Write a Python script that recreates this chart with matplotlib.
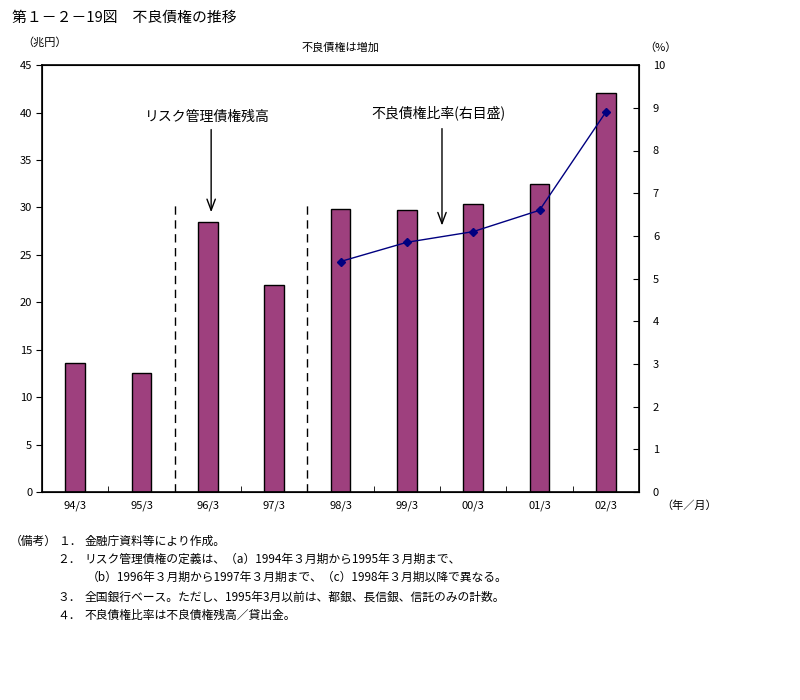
import matplotlib
matplotlib.use("Agg")
import matplotlib.pyplot as plt

plt.rcParams['font.family'] = ['Noto Sans CJK JP', 'DejaVu Sans']

# data
periods = ["94/3", "95/3", "96/3", "97/3", "98/3", "99/3", "00/3", "01/3", "02/3"]
npl_amount = [13.6, 12.5, 28.5, 21.8, 29.8, 29.7, 30.4, 32.5, 42.1]   # 兆円
ratio_periods = ["98/3", "99/3", "00/3", "01/3", "02/3"]
npl_ratio = [5.4, 5.85, 6.1, 6.6, 8.9]                               # %

note_nums = ["１．", "２．", "", "３．", "４．"]
notes = [
    "金融庁資料等により作成。",
    "リスク管理債権の定義は、（a）1994年３月期から1995年３月期まで、",
    "（b）1996年３月期から1997年３月期まで、（c）1998年３月期以降で異なる。",
    "全国銀行ベース。ただし、1995年3月以前は、都銀、長信銀、信託のみの計数。",
    "不良債権比率は不良債権残高／貸出金。",
]

bar_color = "#9E407E"
line_color = "#000080"

fig = plt.figure(figsize=(8, 7), dpi=100)
ax = fig.add_axes([0.0525, 0.297, 0.74625, 0.61])

x = list(range(len(periods)))
ax.bar(x, npl_amount, width=0.3, color=bar_color, edgecolor="black", linewidth=1, zorder=2)
ax.set_xlim(-0.5, len(periods) - 0.5)
ax.set_ylim(0, 45)
ax.set_yticks(range(0, 46, 5))
ax.tick_params(axis='y', direction='out', length=4, labelsize=8, pad=3)

# x ticks: labels at center, tick marks at boundaries
ax.set_xticks(x)
ax.set_xticklabels(periods, fontsize=8)
ax.tick_params(axis='x', which='major', length=0, pad=6)
ax.set_xticks([i + 0.5 for i in x[:-1]], minor=True)
ax.tick_params(axis='x', which='minor', direction='in', length=4)

for s in ax.spines.values():
    s.set_linewidth(1.2)

# dashed separators
for xs in [1.5, 3.5]:
    ax.plot([xs, xs], [0, 30.3], color="black", linestyle=(0, (6, 4)), linewidth=1, zorder=1)

ax2 = ax.twinx()
ax2.set_ylim(0, 10)
ax2.set_yticks(range(0, 11))
ax2.tick_params(axis='y', direction='in', length=4, labelsize=8, pad=10)
rx = [periods.index(p) for p in ratio_periods]
ax2.plot(rx, npl_ratio, color=line_color, linewidth=1, marker='D', markersize=4, zorder=3)

# annotations
ax.annotate("", xy=(2.05, 29.2), xytext=(2.05, 38.5),
            arrowprops=dict(arrowstyle="->,head_length=0.8,head_width=0.3", color="black", lw=1))
ax.text(2.0, 39.5, "リスク管理債権残高", ha='center', va='center', fontsize=10)
ax.annotate("", xy=(5.53, 27.8), xytext=(5.53, 38.6),
            arrowprops=dict(arrowstyle="->,head_length=0.8,head_width=0.3", color="black", lw=1))
ax.text(5.47, 40.0, "不良債権比率(右目盛)", ha='center', va='center', fontsize=10)

fig.text(0.015, 0.974, "第１－２－19図　不良債権の推移", fontsize=10.7, va='center')
fig.text(0.028, 0.94, "（兆円）", fontsize=8, va='center')
fig.text(0.426, 0.932, "不良債権は増加", fontsize=8, va='center', ha='center')
fig.text(0.805, 0.932, "（%）", fontsize=8, va='center')
fig.text(0.826, 0.278, "（年／月）", fontsize=8, va='center')

fig.text(0.012, 0.227, "（備考）", fontsize=8.5, va='center')
note_y = [0.227, 0.201, 0.175, 0.147, 0.121]
for ny, num, t in zip(note_y, note_nums, notes):
    if num:
        fig.text(0.072, ny, num, fontsize=8.5, va='center')
        fig.text(0.106, ny, t, fontsize=8.5, va='center')
    else:
        fig.text(0.108, ny, t, fontsize=8.5, va='center')

fig.savefig("out.png", dpi=100)
